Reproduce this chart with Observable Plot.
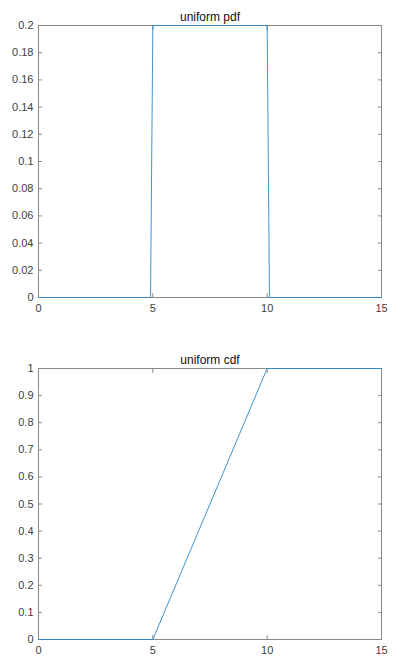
<!DOCTYPE html>
<html>
<head>
<meta charset="utf-8">
<script src="https://cdn.jsdelivr.net/npm/d3@7"></script>
<script src="https://cdn.jsdelivr.net/npm/@observablehq/plot@0.6"></script>
<style>
  html, body { margin: 0; padding: 0; background: #fff; }
  #chart svg { display: block; }
</style>
</head>
<body>
<div id="chart"></div>
<script>
const xTicks = [0, 5, 10, 15];
const pdfYTicks = [0, 0.02, 0.04, 0.06, 0.08, 0.1, 0.12, 0.14, 0.16, 0.18, 0.2];
const cdfYTicks = [0, 0.1, 0.2, 0.3, 0.4, 0.5, 0.6, 0.7, 0.8, 0.9, 1];
const pdfX = [0, 4.9, 5, 10, 10.1, 15];
const pdfY = [0, 0, 0.2, 0.2, 0, 0];
const cdfX = [0, 5, 10, 15];
const cdfY = [0, 0, 1, 1];
const titles = ["uniform pdf", "uniform cdf"];

const axisColor = "#8a8a8a";
const textColor = "#404040";
const lineColor = "#2a86c8";
const fmt = d => String(+d.toFixed(2));

function panel({title, xs, ys, yTicks, yMax, height, marginTop, marginBottom}) {
  const data = xs.map((x, i) => ({x, y: ys[i]}));
  return Plot.plot({
    width: 401,
    height,
    marginLeft: 38,
    marginRight: 20,
    marginTop,
    marginBottom,
    style: {fontFamily: "'Liberation Sans', Arial, sans-serif", fontSize: "11px", color: textColor, background: "#fff"},
    x: {domain: [0, 15]},
    y: {domain: [0, yMax]},
    marks: [
      Plot.frame({stroke: axisColor, strokeWidth: 1}),
      Plot.axisX(xTicks, {anchor: "bottom", tickSize: -4, tickPadding: 11, tickFormat: fmt, stroke: axisColor, fill: textColor, label: null}),
      Plot.axisX(xTicks, {anchor: "top", tickSize: -4, tickFormat: () => "", stroke: axisColor, label: null}),
      Plot.axisY(yTicks, {anchor: "left", tickSize: -4, tickPadding: 9, tickFormat: fmt, stroke: axisColor, fill: textColor, label: null}),
      Plot.axisY(yTicks, {anchor: "right", tickSize: -4, tickFormat: () => "", stroke: axisColor, label: null}),
      Plot.line(data, {x: "x", y: "y", stroke: lineColor, strokeWidth: 0.9}),
      Plot.text([title], {frameAnchor: "top", lineAnchor: "bottom", dy: -5, fontSize: 12, fill: "#111", text: d => d})
    ]
  });
}

const chart = document.getElementById("chart");
chart.append(panel({title: titles[0], xs: pdfX, ys: pdfY, yTicks: pdfYTicks, yMax: 0.2, height: 330, marginTop: 25, marginBottom: 33}));
chart.append(panel({title: titles[1], xs: cdfX, ys: cdfY, yTicks: cdfYTicks, yMax: 1, height: 339, marginTop: 38, marginBottom: 30}));
</script>
</body>
</html>
